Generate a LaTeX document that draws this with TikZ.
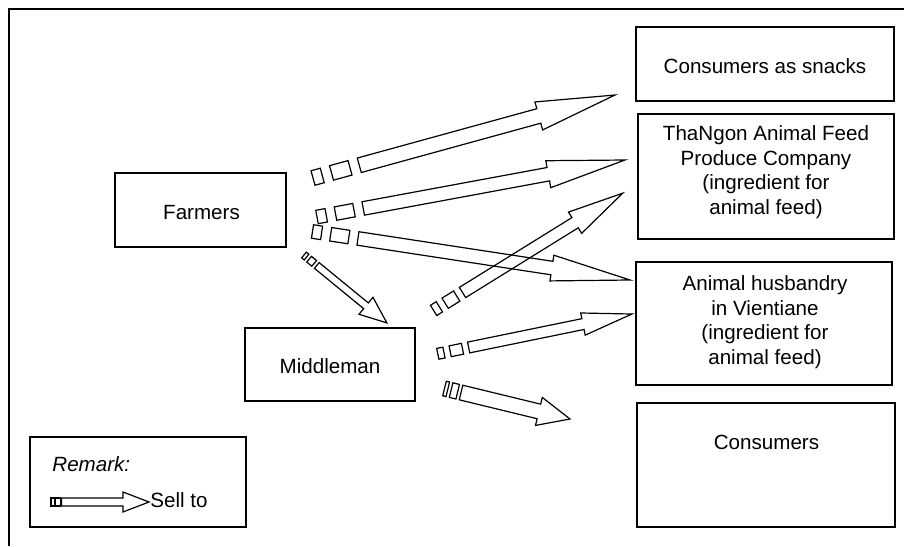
\documentclass[tikz,border=0pt]{standalone}
\usepackage{fontspec}
\setmainfont{Liberation Sans}
\usetikzlibrary{calc,fit}

\tikzset{
  box/.style={draw, line width=0.75pt, inner sep=0pt},
  txt/.style={inner sep=0pt, font=\fontsize{10.3}{12.35}\selectfont, align=center},
  arrowline/.style={draw, line width=0.6pt, line join=miter},
}

% Striped block arrow from #1 (tail) to #2 (tip), sizes in px:
% #3 shaft half-width, #4 head half-width, #5 head length,
% #6 end of first stripe, #7/#8 start/end of second stripe, #9 start of shaft
\newcommand\stripedarrow[9]{%
  \path let \p1=($(#2)-(#1)$) in \pgfextra{%
    \pgfmathsetmacro\saAng{atan2(\y1,\x1)}%
    \pgfmathsetmacro\saLen{2*veclen(\x1,\y1)}%
    \global\let\saAngG\saAng
    \global\let\saLenG\saLen};
  \begin{scope}[shift={(#1)}, rotate=\saAngG, x=0.5pt, y=0.5pt]
    \draw[arrowline] (0,-#3) rectangle (#6,#3);
    \draw[arrowline] (#7,-#3) rectangle (#8,#3);
    \draw[arrowline] (#9,-#3) -- ({\saLenG-#5},-#3) -- ({\saLenG-#5},-#4)
      -- (\saLenG,0) -- ({\saLenG-#5},#4) -- ({\saLenG-#5},#3) -- (#9,#3) -- cycle;
  \end{scope}}

\begin{document}
\begin{tikzpicture}[x=0.5pt, y=-0.5pt]
\useasboundingbox (0,0) rectangle (904,546);

% frame, open at the bottom and on the right
\draw[line width=1pt] (9,546) -- (9,9) -- (904,9);

% actors
\node[box, fit={(115,173) (286,247)}] (farmers) {};
\node[txt] (farmers-t) at (201.5,213) {Farmers};

\node[box, fit={(245,328) (415,401)}] (middleman) {};
\node[txt] (middleman-t) at (330,366) {Middleman};

\node[box, fit={(636,27) (894,101)}] (snacks) {};
\node[txt] (snacks-t) at (765,66) {Consumers as snacks};

\node[box, fit={(638,114) (894,239)}] (thangon) {};
\node[txt, anchor=north] (thangon-t) at (766,125)
  {ThaNgon Animal Feed\\Produce Company\\(ingredient for\\animal feed)};

\node[box, fit={(636,262) (892,385)}] (husbandry) {};
\node[txt, anchor=north] (husbandry-t) at (765,275)
  {Animal husbandry\\in Vientiane\\(ingredient for\\animal feed)};

\node[box, fit={(637,403) (895,527)}] (consumers) {};
\node[txt] (consumers-t) at (766.5,442.5) {Consumers};

% legend
\node[box, fit={(30,437) (246,527)}] (remark) {};
\node[txt, anchor=north west, font=\fontsize{10.3}{12.35}\selectfont\itshape] (remark-t) at (52,456) {Remark:};
\node[txt, anchor=west] (sell-t) at (150,500) {Sell to};

% arrow end points
\coordinate (a1t) at (313,178);     \coordinate (a1h) at (615,95);
\coordinate (a2t) at (317,217);     \coordinate (a2h) at (625,160);
\coordinate (a3t) at (312.5,231.5); \coordinate (a3h) at (630,280);
\coordinate (a4t) at (304,255);     \coordinate (a4h) at (387,323);
\coordinate (a5t) at (433.6,310.4); \coordinate (a5h) at (623,193);
\coordinate (a6t) at (437.8,353.8); \coordinate (a6h) at (632,314);
\coordinate (a7t) at (444.5,388.5); \coordinate (a7h) at (570,419);
\coordinate (lgt) at (51,502);      \coordinate (lgh) at (149,502);

% sales flows
\stripedarrow{a1t}{a1h}{7.5}{14.5}{79}{9.6}{19.2}{38.4}{48}
\stripedarrow{a2t}{a2h}{6.8}{13.7}{78}{9.4}{18.8}{37.6}{47}
\stripedarrow{a3t}{a3h}{6.8}{13}{79}{9.2}{18.4}{36.8}{46}
\stripedarrow{a4t}{a4h}{3.7}{11}{27}{3.3}{6.6}{13.2}{16.5}
\stripedarrow{a5t}{a5h}{6}{12.5}{56}{6.8}{13.6}{27.2}{34}
\stripedarrow{a6t}{a6h}{5.5}{11.3}{50}{6.3}{12.6}{25.2}{31.5}
\stripedarrow{a7t}{a7h}{7.5}{14.4}{32}{3.4}{6.8}{13.6}{17}
\stripedarrow{lgt}{lgh}{4}{10}{26}{3.3}{4.6}{9.4}{10.6}
\end{tikzpicture}
\end{document}
